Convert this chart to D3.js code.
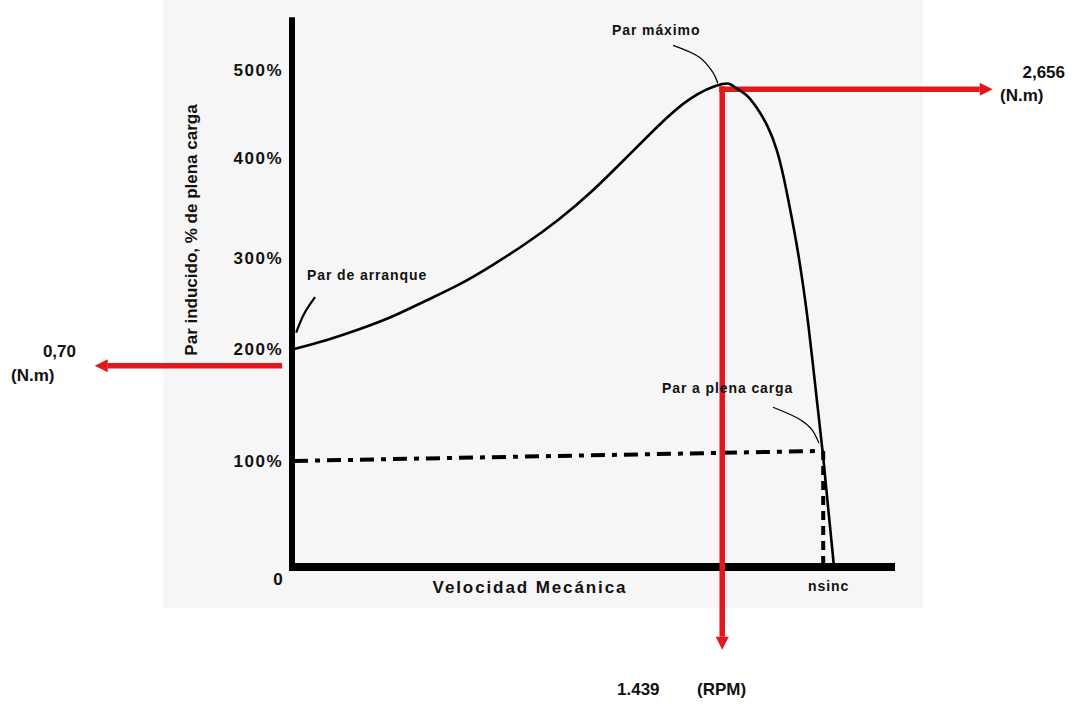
<!DOCTYPE html>
<head>
  <meta charset="utf-8">
  <style>
    body { margin: 0; background: #fff; }
    svg text { font-family: "Liberation Sans", Arial, sans-serif; fill: #111; }
    svg .tick text { font-size: 17px; font-weight: bold; letter-spacing: 1.5px; }
    svg .note { font-size: 14px; font-weight: bold; letter-spacing: 0.9px; }
    svg .value { font-size: 17px; font-weight: bold; }
  </style>
</head>
<body>
<script src="https://cdn.jsdelivr.net/npm/d3@7"></script>
<script>
  // torque-speed curve, speed in % of nsinc, torque in % of full load
  var speed  = [0, 6.1, 12.2, 18.3, 24.4, 30.6, 36.7, 42.8, 48.9, 55.0, 61.1, 67.2, 73.3, 79.3,
                81.5, 83.7, 85.7, 87.7, 89.4, 90.7, 91.9, 93.1, 94.2, 95.2, 96.1, 97.0, 97.9, 98.7, 99.5, 100];
  var torque = [200, 210, 222, 236, 253, 271, 292, 314, 338, 366, 398, 435, 467, 484,
                481, 472, 457, 436, 409, 380, 348, 313, 273, 229, 186, 147, 108, 67, 26, 0];

  var yTicks = [100, 200, 300, 400, 500];

  // full load line (dash-dot) and drop to the axis
  var loadSpeed  = [0, 98.0];
  var loadTorque = [100, 109];

  // leader lines of the notes
  var maxLeadX   = [70.2, 75.2, 77.6, 78.5];
  var maxLeadY   = [528, 514, 497, 485];
  var startLeadX = [0.4, 2.0, 3.9];
  var startLeadY = [218, 240, 257];
  var loadLeadX  = [88.7, 93.7, 95.9, 97.2];
  var loadLeadY  = [148, 137, 128, 116];

  // red arrows: max torque point and the start torque
  var peakSpeed = 79.3, peakTorque = 478;
  var rightTip = 129.4, bottomTip = -78;
  var startArrowY = 185, startArrowX = [-2.2, -36.9];

  var W = 1077, H = 704;
  var svg = d3.select("body").append("svg")
      .attr("width", W)
      .attr("height", H);

  var x = d3.scaleLinear().domain([0, 100]).range([294, 834]);
  // the printed scale is not even, so map tick by tick
  var y = d3.scaleLinear().domain([0, 100, 200, 300, 400, 500]).range([567, 461, 349, 258, 158, 70]);

  var red = "#e4171d";

  // scanned paper
  svg.append("rect")
      .attr("x", 163).attr("y", 0)
      .attr("width", 760).attr("height", 608)
      .style("fill", "#f6f6f6");

  // y ticks
  var yAxis = d3.axisLeft(y).tickValues(yTicks).tickSize(0).tickPadding(11)
      .tickFormat(function (d) { return d + "%"; });
  var ya = svg.append("g")
      .attr("transform", "translate(" + x(0) + ",0)")
      .call(yAxis);
  ya.select(".domain").remove();

  svg.append("text")
      .attr("x", 278).attr("y", 585)
      .attr("text-anchor", "middle")
      .style("font-size", "17px").style("font-weight", "bold")
      .text("0");

  // axes drawn as heavy bars
  svg.append("line")
      .attr("x1", x(0) - 2).attr("x2", x(0) - 2)
      .attr("y1", y(560)).attr("y2", y(0) + 3)
      .style("stroke", "#000").style("stroke-width", 6);
  svg.append("line")
      .attr("x1", x(0) - 5).attr("x2", x(111.3))
      .attr("y1", y(0)).attr("y2", y(0))
      .style("stroke", "#000").style("stroke-width", 8);

  // full load lines
  var lineXY = d3.line()
      .x(function (d) { return x(d[0]); })
      .y(function (d) { return y(d[1]); });

  svg.append("path")
      .attr("d", lineXY(d3.zip(loadSpeed, loadTorque)))
      .style("fill", "none").style("stroke", "#000")
      .style("stroke-width", 4).style("stroke-dasharray", "14,7,5,7");
  svg.append("path")
      .attr("d", lineXY([[loadSpeed[1], loadTorque[1]], [loadSpeed[1], 0]]))
      .style("fill", "none").style("stroke", "#000")
      .style("stroke-width", 4).style("stroke-dasharray", "9,6");

  // red arrows
  function arrow(x1, y1, x2, y2) {
    var a = Math.atan2(y2 - y1, x2 - x1), L = 13, w = 6.5;
    svg.append("line")
        .attr("x1", x1).attr("y1", y1)
        .attr("x2", x2 - L * Math.cos(a)).attr("y2", y2 - L * Math.sin(a))
        .style("stroke", red).style("stroke-width", 5.5);
    var bx = x2 - L * Math.cos(a), by = y2 - L * Math.sin(a);
    svg.append("path")
        .attr("d", "M" + x2 + "," + y2 +
                   "L" + (bx - w * Math.sin(a)) + "," + (by + w * Math.cos(a)) +
                   "L" + (bx + w * Math.sin(a)) + "," + (by - w * Math.cos(a)) + "Z")
        .style("fill", red);
  }
  arrow(x(peakSpeed) - 3, y(peakTorque), x(rightTip), y(peakTorque));
  arrow(x(peakSpeed), y(peakTorque) - 3, x(peakSpeed), y(bottomTip));
  arrow(x(startArrowX[0]), y(startArrowY), x(startArrowX[1]), y(startArrowY));

  // torque curve
  var curve = d3.line()
      .x(function (d) { return x(d[0]); })
      .y(function (d) { return y(d[1]); })
      .curve(d3.curveCatmullRom);
  var smooth = d3.line()
      .x(function (d) { return x(d[0]); })
      .y(function (d) { return y(d[1]); })
      .curve(d3.curveNatural);
  svg.append("path")
      .attr("d", smooth(d3.zip(speed, torque)))
      .style("fill", "none").style("stroke", "#000").style("stroke-width", 2.6);

  // leaders
  [[maxLeadX, maxLeadY, 1.2], [startLeadX, startLeadY, 2.2], [loadLeadX, loadLeadY, 1.2]].forEach(function (l) {
    svg.append("path")
        .attr("d", curve(d3.zip(l[0], l[1])))
        .style("fill", "none").style("stroke", "#000").style("stroke-width", l[2]);
  });

  // notes
  svg.append("text").classed("note", true).attr("x", 612).attr("y", 35).text("Par máximo");
  svg.append("text").classed("note", true).attr("x", 307).attr("y", 280).text("Par de arranque");
  svg.append("text").classed("note", true).attr("x", 662).attr("y", 393).text("Par a plena carga");
  svg.append("text").classed("note", true).attr("x", 808).attr("y", 591).text("nsinc");

  svg.append("text")
      .attr("x", 530).attr("y", 593)
      .attr("text-anchor", "middle")
      .style("font-size", "17px").style("font-weight", "bold").style("letter-spacing", "1.9px")
      .text("Velocidad Mecánica");

  svg.append("text")
      .attr("transform", "translate(197,230) rotate(-90)")
      .attr("text-anchor", "middle")
      .style("font-size", "17px").style("font-weight", "bold")
      .text("Par inducido, % de plena carga");

  // values
  svg.append("text").classed("value", true).attr("x", 1065).attr("y", 78).attr("text-anchor", "end").text("2,656");
  svg.append("text").classed("value", true).attr("x", 1000).attr("y", 101).text("(N.m)");
  svg.append("text").classed("value", true).attr("x", 76).attr("y", 357).attr("text-anchor", "end").text("0,70");
  svg.append("text").classed("value", true).attr("x", 11).attr("y", 381).text("(N.m)");
  svg.append("text").classed("value", true).attr("x", 617).attr("y", 695).text("1.439");
  svg.append("text").classed("value", true).attr("x", 697).attr("y", 695).text("(RPM)");
</script>
</body>
</html>
